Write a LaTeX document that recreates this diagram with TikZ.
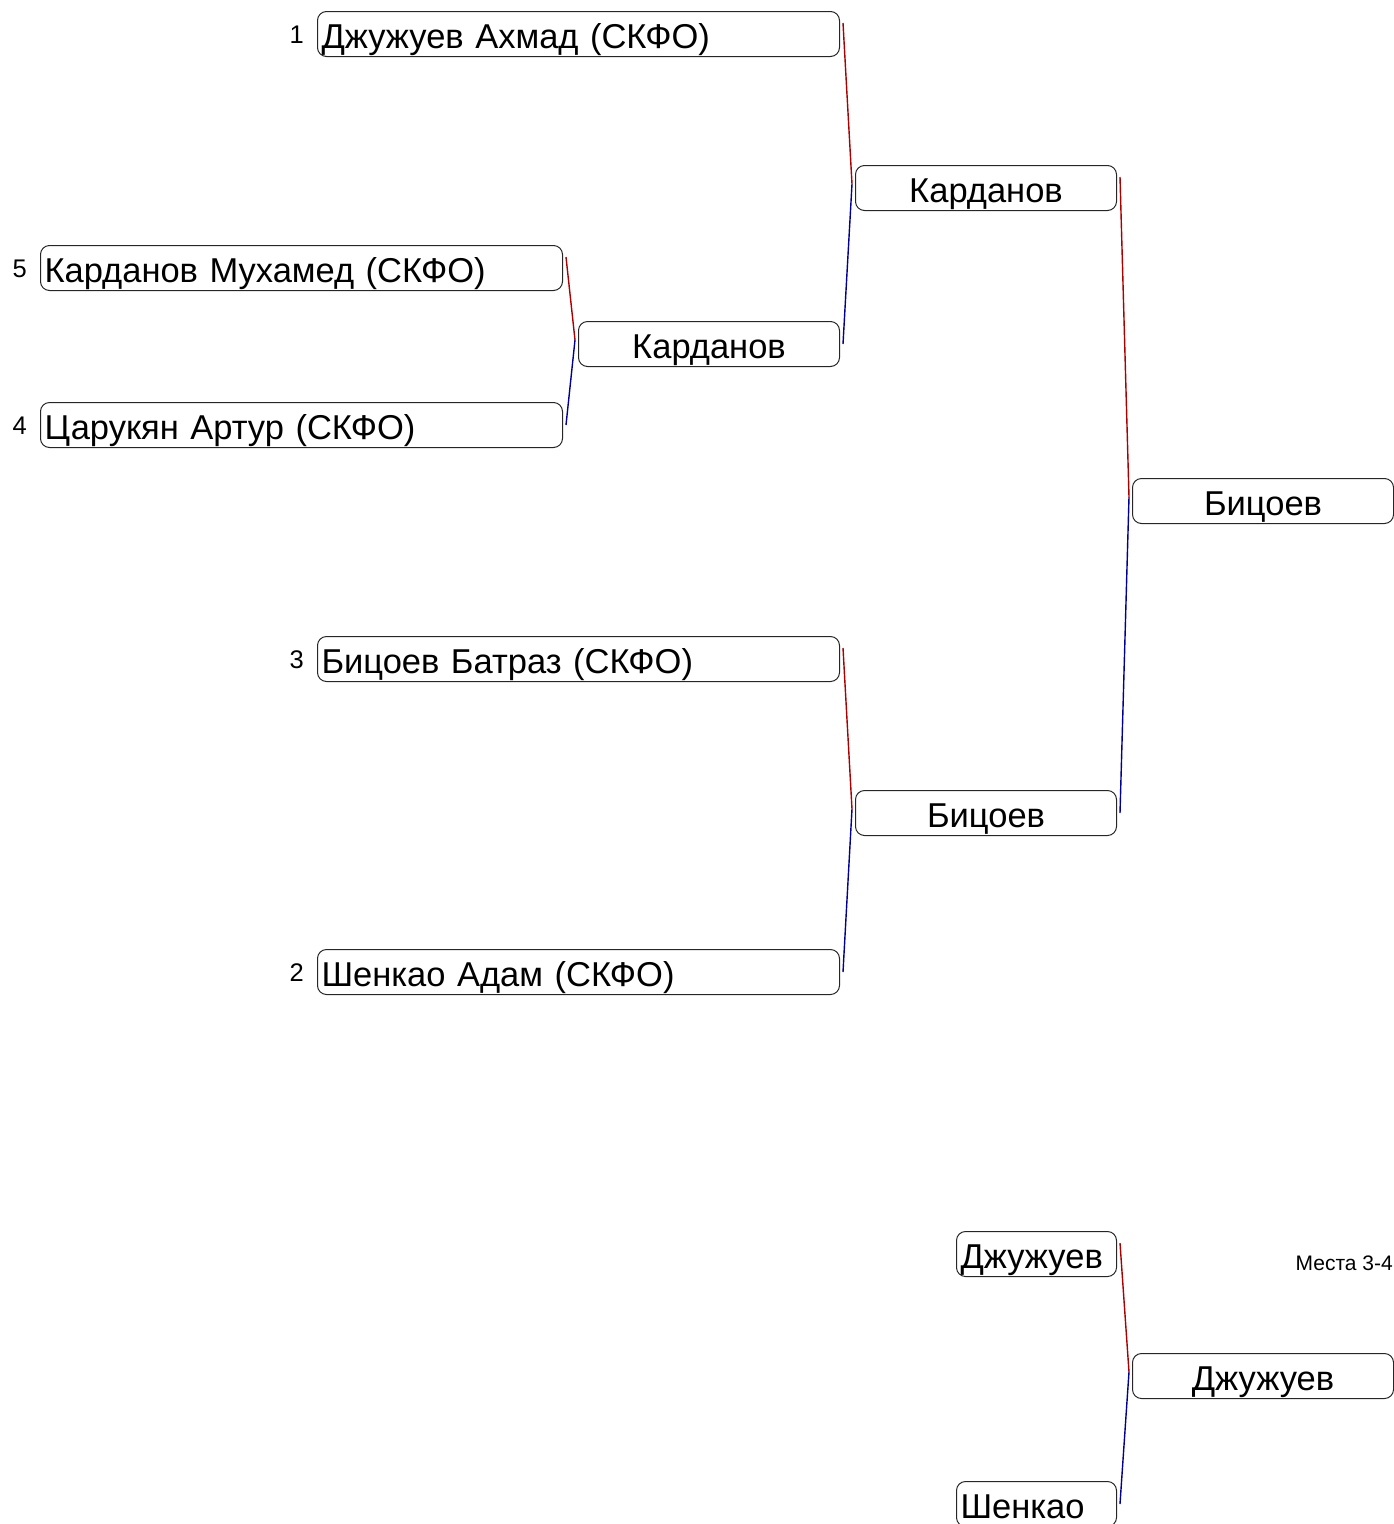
\documentclass[tikz,border=0pt]{standalone}
\usepackage{fontspec}
\setmainfont{Liberation Sans}
\usetikzlibrary{calc}
\definecolor{wred}{RGB}{170,0,0}
\definecolor{wblue}{RGB}{0,0,150}
\newcommand\bracketmatch[3]{%
  \draw[redline] ($(#1.north east)+(3,12)$) -- ($(#3.west)+(-3,-4)$);
  \draw[blueline] ($(#3.west)+(-3,-4)$) -- ($(#2.east)+(3,0)$);}
\begin{document}
\begin{tikzpicture}[x=1pt,y=-1pt,
  box/.style={draw=black!85, rounded corners=9pt, line width=1pt, anchor=north west,
    minimum height=45pt, inner xsep=4pt, inner ysep=0pt, text height=35pt, text depth=7pt,
    font=\fontsize{34.5}{38}\selectfont},
  widebox/.style={box, text width=514pt, align=left},
  midbox/.style={box, text width=253pt, align=center},
  smallbox/.style={box, text width=152pt, align=left},
  seed/.style={anchor=base east, inner sep=0pt, font=\fontsize{25.5}{30}\selectfont},
  redline/.style={draw=wred, line width=1.4pt},
  blueline/.style={draw=wblue, line width=1.4pt}]
\useasboundingbox (0,0) rectangle (1393,1524);
% round 1
\node[widebox] (b1) at (317,11) {Джужуев Ахмад (СКФО)};
\node[widebox] (b5) at (40,245) {Карданов Мухамед (СКФО)};
\node[widebox] (b4) at (40,402) {Царукян Артур (СКФО)};
\node[widebox] (b3) at (317,636) {Бицоев Батраз (СКФО)};
\node[widebox] (b2) at (317,949) {Шенкао Адам (СКФО)};
% seeds
\node[seed] (s1) at ($(b1.north west)+(-13,32)$) {1};
\node[seed] (s5) at ($(b5.north west)+(-13,32)$) {5};
\node[seed] (s4) at ($(b4.north west)+(-13,32)$) {4};
\node[seed] (s3) at ($(b3.north west)+(-13,32)$) {3};
\node[seed] (s2) at ($(b2.north west)+(-13,32)$) {2};
% later rounds
\node[midbox] (r1) at (578,321) {Карданов};
\node[midbox] (r2) at (855,165) {Карданов};
\node[midbox] (r3) at (855,790) {Бицоев};
\node[midbox] (f) at (1132,478) {Бицоев};
% places 3-4
\node[smallbox] (t1) at (956,1231) {Джужуев};
\node[smallbox] (t2) at (956,1481) {Шенкао};
\node[midbox] (tf) at (1132,1353) {Джужуев};
\node[anchor=base east, inner sep=0pt, font=\fontsize{21}{24}\selectfont] (pl) at (1393,1270) {Места 3-4};
% connectors
\bracketmatch{b5}{b4}{r1}
\bracketmatch{b1}{r1}{r2}
\bracketmatch{b3}{b2}{r3}
\bracketmatch{r2}{r3}{f}
\bracketmatch{t1}{t2}{tf}
\end{tikzpicture}
\end{document}
